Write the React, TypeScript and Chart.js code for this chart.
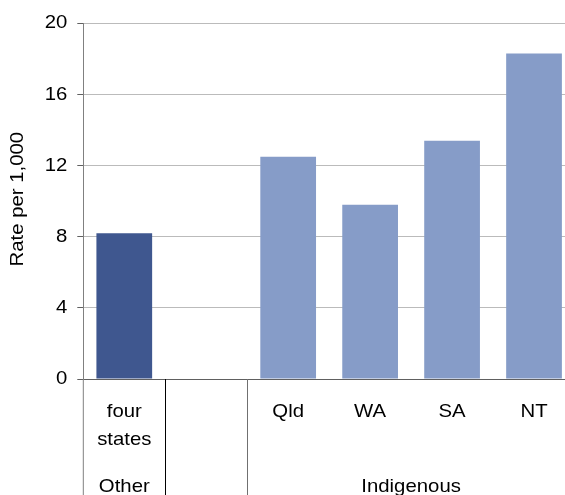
import React, { useEffect, useRef } from "react";
import { Chart, registerables } from "chart.js";

Chart.register(...registerables);

const categories: string[][] = [["four", "states"], [], ["Qld"], ["WA"], ["SA"], ["NT"]];
const rates: (number | null)[] = [8.2, null, 12.5, 9.8, 13.4, 18.3];
const barColors = ["#3F578F", "#869CC8", "#869CC8", "#869CC8", "#869CC8", "#869CC8"];
const groups = [
  { label: "Other", from: 0, to: 0 },
  { label: "Indigenous", from: 2, to: 5 },
];
const yTicks = [0, 4, 8, 12, 16, 20];
const yTitle = "Rate per 1,000";

const FONT = "'Liberation Sans', Arial, sans-serif";
const FONT_SIZE = 18.5;
const SX = 1.1; // horizontal stretch of the reference's text

function drawText(
  ctx: CanvasRenderingContext2D,
  text: string,
  x: number,
  y: number,
  align: CanvasTextAlign,
  baseline: CanvasTextBaseline,
  rotate = false
) {
  ctx.save();
  ctx.translate(x, y);
  if (rotate) ctx.rotate(-Math.PI / 2);
  ctx.scale(SX, 1);
  ctx.textAlign = align;
  ctx.textBaseline = baseline;
  ctx.fillText(text, 0, 0);
  ctx.restore();
}

const labelPlugin = {
  id: "labelPlugin",
  afterDraw(chart: any) {
    const { ctx, chartArea, scales } = chart;
    const x = scales.x;
    const y = scales.y;
    const H = chart.height;
    const half = (x.getPixelForValue(1) - x.getPixelForValue(0)) / 2;
    ctx.save();
    // left axis continuation below the plot
    ctx.strokeStyle = "#808080";
    ctx.lineWidth = 1;
    ctx.beginPath();
    ctx.moveTo(chartArea.left, chartArea.bottom);
    ctx.lineTo(chartArea.left, H);
    ctx.stroke();
    // separators between categories
    const seps = [
      { i: 0, color: "#000000" },
      { i: 1, color: "#707070" },
    ];
    seps.forEach((s) => {
      const px = Math.round(x.getPixelForValue(s.i) + half) + 0.5;
      ctx.strokeStyle = s.color;
      ctx.beginPath();
      ctx.moveTo(px, chartArea.bottom);
      ctx.lineTo(px, H);
      ctx.stroke();
    });

    ctx.fillStyle = "#000";
    ctx.font = `${FONT_SIZE}px ${FONT}`;
    // y tick labels
    yTicks.forEach((v) => {
      drawText(ctx, String(v), chartArea.left - 16, y.getPixelForValue(v), "right", "middle");
    });
    // y title
    drawText(ctx, yTitle, 18, (chartArea.top + chartArea.bottom) / 2 - 2, "center", "middle", true);
    // category labels
    const base = chartArea.bottom + 37.5;
    categories.forEach((lines, i) => {
      const cx = x.getPixelForValue(i);
      lines.forEach((ln, j) => {
        drawText(ctx, ln, cx, base + j * 28.5, "center", "alphabetic");
      });
    });
    // group labels
    groups.forEach((g) => {
      const l = x.getPixelForValue(g.from) - half;
      const r = x.getPixelForValue(g.to) + half;
      drawText(ctx, g.label, (l + r) / 2, chartArea.bottom + 112.5, "center", "alphabetic");
    });
    ctx.restore();
  },
};

export default function App() {
  const ref = useRef<HTMLCanvasElement | null>(null);
  useEffect(() => {
    if (!ref.current) return;
    const chart = new Chart(ref.current, {
      type: "bar",
      data: {
        labels: categories.map((c) => c.join(" ")),
        datasets: [
          {
            data: rates as any,
            backgroundColor: barColors,
            barPercentage: 0.68,
            categoryPercentage: 1,
          },
        ],
      },
      options: {
        animation: false,
        responsive: true,
        maintainAspectRatio: false,
        layout: { padding: { top: 23.3, right: 25, left: 0, bottom: 0 } },
        plugins: { legend: { display: false }, tooltip: { enabled: false } },
        scales: {
          x: {
            grid: { display: false, drawTicks: false },
            border: { display: true, color: "#606060", width: 1 },
            ticks: { display: false },
            afterFit(scale: any) {
              scale.height = 116;
            },
          },
          y: {
            min: 0,
            max: 20,
            afterBuildTicks(scale: any) {
              scale.ticks = yTicks.map((v) => ({ value: v }));
            },
            grid: { color: "#BBBBBB", tickColor: "#606060", tickLength: 6 },
            border: { display: true, color: "#808080", width: 1 },
            ticks: { display: false },
            afterFit(scale: any) {
              scale.width = 83.3;
            },
          },
        },
      },
      plugins: [labelPlugin],
    });
    return () => chart.destroy();
  }, []);
  return (
    <div
      style={{
        position: "absolute",
        left: 0,
        top: 0,
        width: 565,
        height: 495,
        overflow: "hidden",
        background: "#fff",
      }}
    >
      <div style={{ position: "relative", width: 600, height: 495 }}>
        <canvas ref={ref} />
      </div>
    </div>
  );
}
